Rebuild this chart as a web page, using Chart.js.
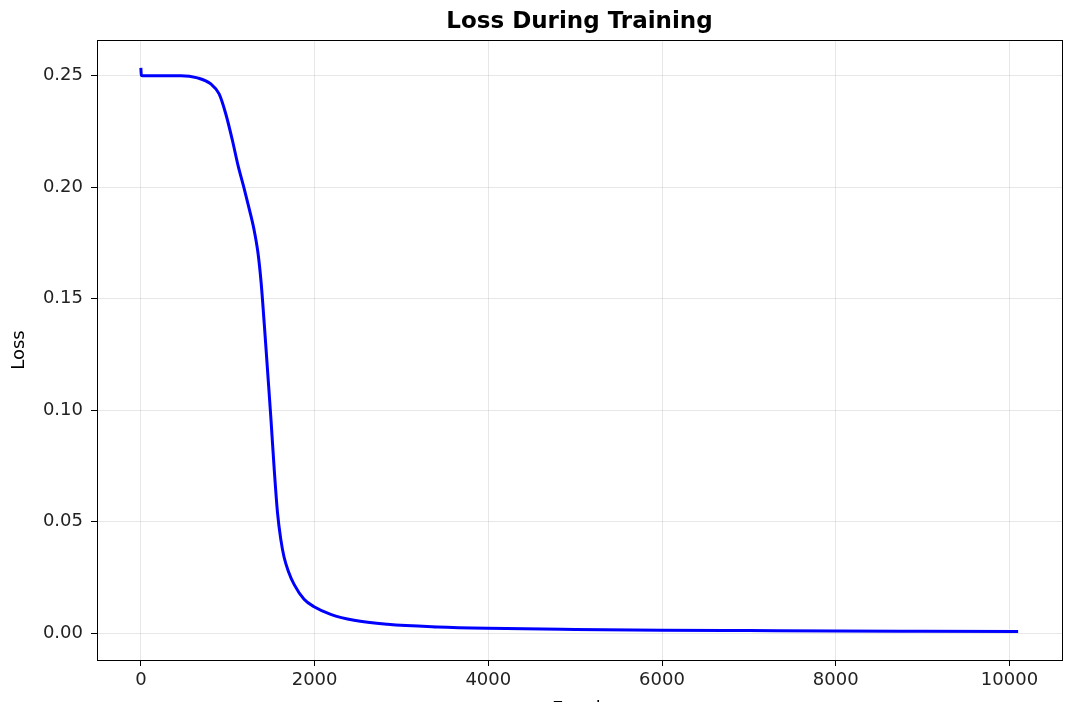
<!DOCTYPE html>
<html>
<head>
<meta charset="utf-8">
<title>Loss During Training</title>
<script src="https://cdn.jsdelivr.net/npm/chart.js@4"></script>
<style>
    body { margin: 0; background: #fff; overflow: hidden; }
</style>
</head>
<body>
<canvas id="myChart" width="1076" height="728"></canvas>
<script>
// Values
let epochs = [0, 5, 20, 200, 460, 652, 805, 901, 978, 1055, 1120, 1185, 1246, 1300, 1350, 1385, 1420, 1458, 1496, 1534, 1573, 1611, 1649, 1700, 1764, 1879, 1994, 2186, 2455, 2839, 3414, 3990, 5000, 6000, 7000, 8000, 9000, 10100];
let loss = [0.2535, 0.2502, 0.2500, 0.2500, 0.2500, 0.2490, 0.2463, 0.2418, 0.2328, 0.2208, 0.2095, 0.2000, 0.1905, 0.1815, 0.1700, 0.1570, 0.1390, 0.1180, 0.0970, 0.0742, 0.0540, 0.0420, 0.0340, 0.0275, 0.0218, 0.0151, 0.0118, 0.0084, 0.0057, 0.0039, 0.0027, 0.0021, 0.0016, 0.0013, 0.0011, 0.0009, 0.0008, 0.0007];
let xTicks = [0, 2000, 4000, 6000, 8000, 10000];
let yTicks = [0, 0.05, 0.10, 0.15, 0.20, 0.25];
let titleText = 'Loss During Training';

let points = epochs.map(function(e, i) {
    return { x: e, y: loss[i] };
});

const font = 'DejaVu Sans';
const gridColor = 'rgba(176, 176, 176, 0.3)';

// box around the plot area, and the title centred over it
const frame = {
    id: 'frame',
    afterDraw: function(chart) {
        const c = chart.ctx;
        const a = chart.chartArea;
        c.save();
        c.strokeStyle = '#000';
        c.lineWidth = 1;
        c.strokeRect(a.left + 0.5, a.top + 0.5, a.right - a.left, a.bottom - a.top);
        c.fillStyle = '#000';
        c.font = 'bold 23px "' + font + '"';
        c.textAlign = 'center';
        c.textBaseline = 'alphabetic';
        c.fillText(titleText, (a.left + a.right) / 2, 28);
        c.restore();
    }
};

const ctx = document.getElementById('myChart').getContext('2d');
const myChart = new Chart(ctx, {
    type: 'line',
    data: {
        datasets: [{
            label: 'Loss',
            data: points,
            borderColor: '#0000ff',
            borderWidth: 3,
            pointRadius: 0,
            cubicInterpolationMode: 'monotone',
            fill: false
        }]
    },
    options: {
        responsive: false,
        animation: false,
        layout: { padding: { left: 0, right: 14, top: 40, bottom: 0 } },
        plugins: {
            legend: { display: false },
            tooltip: { enabled: false },
            title: { display: false }
        },
        scales: {
            x: {
                type: 'linear',
                min: -505,
                max: 10605,
                afterFit: function(s) { s.height = 68; },
                afterBuildTicks: function(s) {
                    s.ticks = xTicks.map(function(v) { return { value: v }; });
                },
                ticks: {
                    color: '#222',
                    font: { family: font, size: 18 },
                    padding: 4,
                    maxRotation: 0,
                    callback: function(v) { return String(v); }
                },
                grid: { color: gridColor, tickColor: '#000', tickLength: 6 },
                border: { color: '#000', width: 1 },
                title: {
                    display: true,
                    text: 'Epoch',
                    color: '#000',
                    font: { family: font, size: 18 },
                    padding: { top: 4, bottom: 8 }
                }
            },
            y: {
                min: -0.0121,
                max: 0.2660,
                afterFit: function(s) { s.width = 97; },
                afterBuildTicks: function(s) {
                    s.ticks = yTicks.map(function(v) { return { value: v }; });
                },
                ticks: {
                    color: '#222',
                    font: { family: font, size: 18 },
                    padding: 8,
                    callback: function(v) { return v.toFixed(2); }
                },
                grid: { color: gridColor, tickColor: '#000', tickLength: 6 },
                border: { color: '#000', width: 1 },
                title: {
                    display: true,
                    text: 'Loss',
                    color: '#000',
                    font: { family: font, size: 18 },
                    padding: { top: 9, bottom: 4 }
                }
            }
        }
    },
    plugins: [frame]
});
</script>
</body>
</html>
